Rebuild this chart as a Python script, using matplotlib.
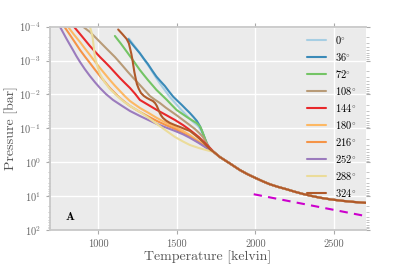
import numpy as np
import matplotlib
matplotlib.use("Agg")
import matplotlib.pyplot as plt
from matplotlib.ticker import LogLocator, FuncFormatter, NullFormatter

plt.rcParams["font.family"] = "serif"
plt.rcParams["font.serif"] = ["cmr10"]
plt.rcParams["mathtext.fontset"] = "cm"
plt.rcParams["axes.unicode_minus"] = False

# longitude of each profile (legend order)
angles = [0, 36, 72, 108, 144, 180, 216, 252, 288, 324]
colors = ["#a6cee3", "#3a8ab8", "#74c465", "#b89b78", "#e8282b",
          "#fdb863", "#f59447", "#9b7bbd", "#ebdc9a", "#b0592a"]

# temperature [K] / pressure [bar] of each profile, read top down
t_0 = [1195, 1230, 1265, 1297, 1329, 1360, 1392, 1424, 1456, 1493, 1530, 1557, 1583,
       1610, 1634, 1648, 1660, 1676, 1691, 1712]
p_0 = [2.23e-4, 3.65e-4, 5.97e-4, 1.0e-3, 1.65e-3, 2.8e-3, 4.68e-3, 7.5e-3, 1.19e-2,
       1.85e-2, 2.87e-2, 3.9e-2, 5.28e-2, 6.8e-2, 8.49e-2, 0.104, 0.128, 0.19, 0.27, 0.4]

t_36 = [1191, 1228, 1265, 1290, 1316, 1343, 1371, 1397, 1424, 1450, 1477, 1505, 1532,
        1558, 1583, 1606, 1628, 1645, 1658, 1675, 1690, 1712]
p_36 = [2.35e-4, 3.8e-4, 6.09e-4, 8.8e-4, 1.26e-3, 1.95e-3, 2.99e-3, 4.1e-3, 5.61e-3,
        8.1e-3, 1.16e-2, 1.55e-2, 2.04e-2, 2.7e-2, 3.51e-2, 4.6e-2, 6.05e-2, 8.2e-2,
        0.111, 0.18, 0.275, 0.4]

t_72 = [1106, 1145, 1183, 1224, 1265, 1290, 1316, 1343, 1371, 1404, 1437, 1468, 1499,
        1532, 1564, 1595, 1626, 1650, 1666, 1683, 1698, 1715]
p_72 = [1.88e-4, 3.2e-4, 5.57e-4, 1.02e-3, 1.89e-3, 2.65e-3, 3.73e-3, 5.2e-3, 7.36e-3,
        1.03e-2, 1.45e-2, 2.05e-2, 2.87e-2, 3.65e-2, 4.61e-2, 5.7e-2, 6.93e-2, 9e-2,
        0.137, 0.22, 0.331, 0.42]

t_108 = [903, 947, 979, 1011, 1058, 1106, 1148, 1189, 1227, 1265, 1297, 1329, 1360, 1392,
         1430, 1469, 1505, 1539, 1578, 1615, 1645, 1666, 1700]
p_108 = [1e-4, 1.43e-4, 2.0e-4, 2.83e-4, 4.7e-4, 7.83e-4, 1.3e-3, 2.17e-3, 3.4e-3, 5.25e-3,
         7.6e-3, 1.11e-2, 1.42e-2, 1.78e-2, 2.45e-2, 3.28e-2, 4.3e-2, 5.65e-2, 7.7e-2,
         0.104, 0.14, 0.179, 0.33]

t_144 = [845, 884, 915, 947, 979, 1011, 1043, 1074, 1106, 1138, 1170, 1202, 1235, 1265,
         1320, 1373, 1430, 1488, 1540, 1583, 1640, 1691]
p_144 = [1e-4, 1.64e-4, 2.45e-4, 3.71e-4, 5.4e-4, 7.83e-4, 1.1e-3, 1.55e-3, 2.25e-3,
         3.26e-3, 4.6e-3, 6.43e-3, 9.6e-3, 1.45e-2, 2.05e-2, 2.87e-2, 4.0e-2, 5.65e-2,
         8e-2, 0.111, 0.18, 0.309]

t_180 = [807, 845, 884, 915, 947, 979, 1011, 1043, 1074, 1106, 1138, 1170, 1202, 1235,
         1265, 1320, 1373, 1430, 1488, 1540, 1583, 1640, 1690]
p_180 = [1e-4, 1.7e-4, 2.83e-4, 4.4e-4, 6.84e-4, 1.07e-3, 1.65e-3, 2.5e-3, 3.73e-3, 5.5e-3,
         7.89e-3, 1.13e-2, 1.56e-2, 2.0e-2, 2.5e-2, 3.5e-2, 4.93e-2, 6.8e-2, 9.1e-2, 0.12,
         0.157, 0.24, 0.36]

t_216 = [784, 808, 833, 858, 884, 915, 947, 979, 1011, 1043, 1074, 1106, 1138, 1170, 1202,
         1265, 1320, 1373, 1430, 1488, 1540, 1583, 1640, 1690]
p_216 = [1e-4, 1.45e-4, 2.15e-4, 3.2e-4, 4.87e-4, 7.6e-4, 1.18e-3, 1.85e-3, 2.85e-3,
         4.3e-3, 6.43e-3, 9.1e-3, 1.27e-2, 1.68e-2, 2.18e-2, 3.28e-2, 4.5e-2, 6.05e-2,
         8e-2, 0.104, 0.14, 0.179, 0.26, 0.37]

t_252 = [756, 775, 795, 817, 839, 861, 884, 915, 947, 979, 1011, 1050, 1094, 1150, 1202,
         1265, 1320, 1373, 1430, 1488, 1540, 1583, 1640, 1690]
p_252 = [1e-4, 1.45e-4, 2.15e-4, 3.25e-4, 4.87e-4, 7.4e-4, 1.1e-3, 1.8e-3, 2.85e-3,
         4.35e-3, 6.43e-3, 9.8e-3, 1.45e-2, 2.15e-2, 3.07e-2, 4.31e-2, 5.7e-2, 7.41e-2,
         9.4e-2, 0.119, 0.15, 0.19, 0.27, 0.38]

t_288 = [947, 956, 964, 971, 979, 993, 1011, 1040, 1074, 1115, 1157, 1210, 1265, 1320,
         1373, 1430, 1488, 1540, 1583, 1640, 1690]
p_288 = [1e-4, 1.4e-4, 2.01e-4, 3.9e-4, 7.83e-4, 1.4e-3, 2.48e-3, 4.3e-3, 6.88e-3, 1.05e-2,
         1.56e-2, 2.3e-2, 3.28e-2, 4.9e-2, 7.41e-2, 0.115, 0.179, 0.245, 0.309, 0.38, 0.44]

t_324 = [1127, 1155, 1181, 1195, 1202, 1211, 1218, 1224, 1230, 1238, 1246, 1258, 1272,
         1290, 1310, 1330, 1348, 1362, 1373, 1383, 1392, 1400, 1412, 1432, 1456, 1488,
         1520, 1550, 1583, 1615, 1647, 1670, 1691, 1715]
p_324 = [1.21e-4, 1.68e-4, 2.31e-4, 3.1e-4, 4.25e-4, 6.4e-4, 9.6e-4, 1.45e-3, 2.17e-3,
         3.3e-3, 4.9e-3, 6.8e-3, 9.04e-3, 1.1e-2, 1.27e-2, 1.42e-2, 1.56e-2, 1.8e-2,
         2.18e-2, 2.8e-2, 3.51e-2, 4.15e-2, 4.93e-2, 5.9e-2, 6.93e-2, 8.0e-2, 9.1e-2,
         0.104, 0.119, 0.155, 0.206, 0.26, 0.331, 0.43]

# deep part shared by all profiles once they merge
t_deep = [1736, 1774, 1840, 1901, 1950, 2000, 2050, 2092, 2145, 2198, 2250, 2302,
          2355, 2410, 2480, 2556, 2630, 2702]
p_deep = [0.5, 0.70, 1.1, 1.69, 2.25, 2.9, 3.7, 4.46, 5.35, 6.25, 7.4, 8.6,
          9.8, 11.1, 12.5, 13.8, 14.9, 15.8]

# dashed reference line
t_dash = [1990, 2705]
p_dash = [8.8, 39]

temps = [t_0, t_36, t_72, t_108, t_144, t_180, t_216, t_252, t_288, t_324]
press = [p_0, p_36, p_72, p_108, p_144, p_180, p_216, p_252, p_288, p_324]

fig = plt.figure(figsize=(4.07, 2.71), dpi=100)
ax = fig.add_axes([0.1229, 0.1513, 0.7764, 0.7502])
ax.set_facecolor("#ebebeb")

for ang, col, t, p in zip(angles, colors, temps, press):
    ax.plot(t + t_deep, p + p_deep, color=col, linewidth=1.5,
            label=r"$%d^{\circ}$" % ang, solid_capstyle="round", solid_joinstyle="round")

ax.plot(t_dash, p_dash, color="#cc00cc", linewidth=1.5, dashes=(4, 3))

ax.set_yscale("log")
ax.set_xlim(693, 2705)
ax.set_ylim(1e2, 1e-4)
ax.set_xticks([1000, 1500, 2000, 2500])
ax.yaxis.set_major_locator(LogLocator(base=10, numticks=10))
ax.yaxis.set_minor_locator(LogLocator(base=10, subs=np.arange(2, 10), numticks=20))
ax.yaxis.set_major_formatter(FuncFormatter(lambda v, _: r"$10^{%d}$" % round(np.log10(v))))
ax.yaxis.set_minor_formatter(NullFormatter())

ax.grid(True, which="major", color="white", linewidth=1.0)
ax.set_axisbelow(True)

for side in ["left", "top", "bottom"]:
    ax.spines[side].set_color("#c8c8c8")
    ax.spines[side].set_linewidth(1.3)
ax.spines["right"].set_visible(False)

ax.tick_params(axis="x", which="major", top=True, bottom=True, direction="out",
               length=3, width=0.8, color="#aaaaaa", labelcolor="#666666", labelsize=7.5)
ax.tick_params(axis="y", which="both", left=True, right=True, direction="out",
               color="#aaaaaa", labelcolor="#666666", labelsize=7.5)
ax.tick_params(axis="y", which="major", length=3, width=0.8)
ax.tick_params(axis="y", which="minor", length=1.8, width=0.5)

ax.set_xlabel("Temperature [kelvin]", fontsize=10, color="#555555")
ax.set_ylabel("Pressure [bar]", fontsize=10, color="#555555")
ax.xaxis.set_label_coords(0.5, -0.10)
ax.yaxis.set_label_coords(-0.10, 0.5)

ax.text(0.063, 0.069, r"$\mathbf{A}$", transform=ax.transAxes, fontsize=8.5,
        ha="center", va="center", color="black")

ax.legend(loc="upper left", bbox_to_anchor=(0.79, 1.0), frameon=False,
          fontsize=7.5, handlelength=1.8, labelspacing=0.48, handletextpad=0.9,
          borderaxespad=0.3)

fig.savefig("out.png", dpi=100)
